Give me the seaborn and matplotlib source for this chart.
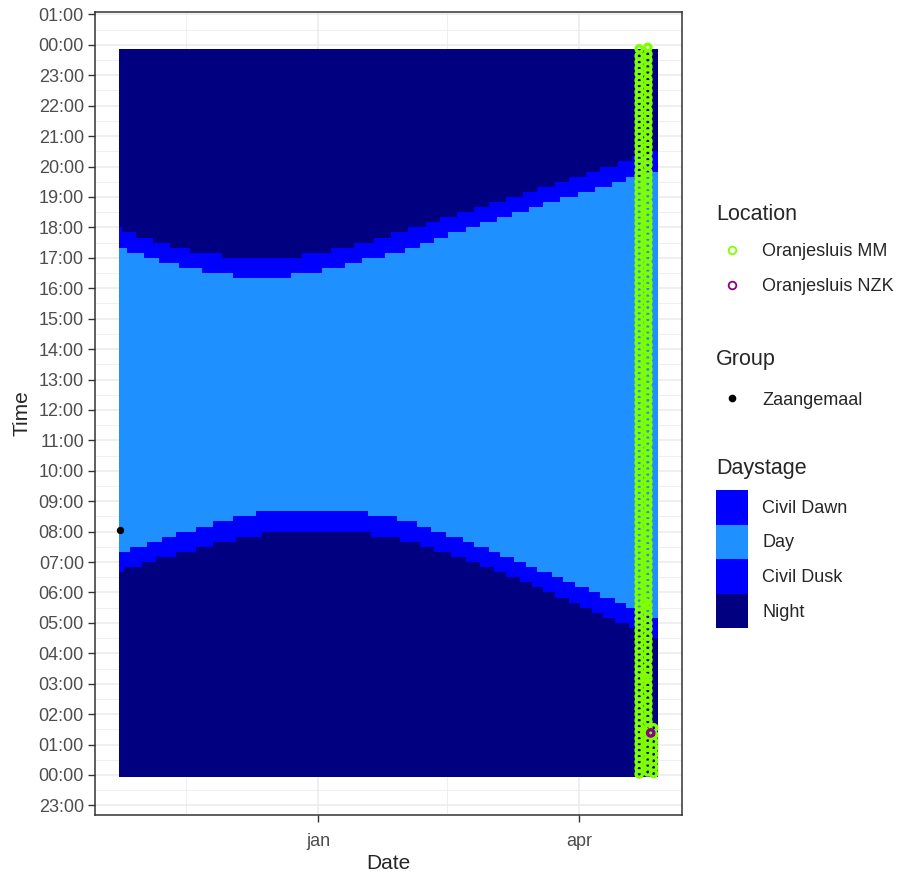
import numpy as np
import pandas as pd
import seaborn as sns
import matplotlib.pyplot as plt
from matplotlib.lines import Line2D
from matplotlib.patches import Patch

sns.set_theme(style="white")
plt.rcParams['font.family'] = ['Liberation Sans', 'DejaVu Sans']


# day stage boundaries, (first day, time) at every change
dawn = [("2023-10-24", "06:40"), ("2023-10-26", "06:50"), ("2023-11-01", "07:00"),
        ("2023-11-06", "07:10"), ("2023-11-13", "07:20"), ("2023-11-20", "07:30"),
        ("2023-11-26", "07:40"), ("2023-12-04", "07:50"), ("2023-12-13", "08:00"),
        ("2024-01-20", "07:50"), ("2024-01-30", "07:40"), ("2024-02-06", "07:30"),
        ("2024-02-11", "07:20"), ("2024-02-17", "07:10"), ("2024-02-22", "07:00"),
        ("2024-02-27", "06:50"), ("2024-03-03", "06:40"), ("2024-03-07", "06:30"),
        ("2024-03-12", "06:20"), ("2024-03-16", "06:10"), ("2024-03-20", "06:00"),
        ("2024-03-24", "05:50"), ("2024-03-29", "05:40"), ("2024-04-02", "05:30"),
        ("2024-04-06", "05:20"), ("2024-04-10", "05:10"), ("2024-04-14", "05:00"),
        ("2024-04-19", "04:50"), ("2024-04-23", "04:40"), ("2024-04-27", "04:30")]

sunrise = [("2023-10-24", "07:20"), ("2023-10-28", "07:30"), ("2023-11-03", "07:40"),
           ("2023-11-08", "07:50"), ("2023-11-13", "08:00"), ("2023-11-20", "08:10"),
           ("2023-11-26", "08:20"), ("2023-12-03", "08:30"), ("2023-12-11", "08:40"),
           ("2024-01-19", "08:30"), ("2024-01-29", "08:20"), ("2024-02-05", "08:10"),
           ("2024-02-10", "08:00"), ("2024-02-15", "07:50"), ("2024-02-21", "07:40"),
           ("2024-02-25", "07:30"), ("2024-03-01", "07:20"), ("2024-03-05", "07:10"),
           ("2024-03-10", "07:00"), ("2024-03-14", "06:50"), ("2024-03-18", "06:40"),
           ("2024-03-23", "06:30"), ("2024-03-27", "06:20"), ("2024-03-31", "06:10"),
           ("2024-04-05", "06:00"), ("2024-04-09", "05:50"), ("2024-04-14", "05:40"),
           ("2024-04-18", "05:30"), ("2024-04-23", "05:20"), ("2024-04-27", "05:10")]

sunset = [("2023-10-24", "17:20"), ("2023-10-27", "17:10"), ("2023-11-02", "17:00"),
          ("2023-11-07", "16:50"), ("2023-11-14", "16:40"), ("2023-11-22", "16:30"),
          ("2023-12-03", "16:20"), ("2023-12-23", "16:30"), ("2024-01-03", "16:40"),
          ("2024-01-11", "16:50"), ("2024-01-17", "17:00"), ("2024-01-25", "17:10"),
          ("2024-02-01", "17:20"), ("2024-02-06", "17:30"), ("2024-02-11", "17:40"),
          ("2024-02-16", "17:50"), ("2024-02-22", "18:00"), ("2024-02-27", "18:10"),
          ("2024-03-04", "18:20"), ("2024-03-09", "18:30"), ("2024-03-15", "18:40"),
          ("2024-03-20", "18:50"), ("2024-03-26", "19:00"), ("2024-04-01", "19:10"),
          ("2024-04-07", "19:20"), ("2024-04-13", "19:30"), ("2024-04-18", "19:40"),
          ("2024-04-24", "19:50")]

dusk = [("2023-10-24", "18:00"), ("2023-10-25", "17:50"), ("2023-10-30", "17:40"),
        ("2023-11-05", "17:30"), ("2023-11-11", "17:20"), ("2023-11-18", "17:10"),
        ("2023-11-29", "17:00"), ("2023-12-27", "17:10"), ("2024-01-06", "17:20"),
        ("2024-01-14", "17:30"), ("2024-01-21", "17:40"), ("2024-01-27", "17:50"),
        ("2024-02-02", "18:00"), ("2024-02-08", "18:10"), ("2024-02-13", "18:20"),
        ("2024-02-19", "18:30"), ("2024-02-25", "18:40"), ("2024-03-01", "18:50"),
        ("2024-03-07", "19:00"), ("2024-03-13", "19:10"), ("2024-03-18", "19:20"),
        ("2024-03-24", "19:30"), ("2024-03-29", "19:40"), ("2024-04-04", "19:50"),
        ("2024-04-09", "20:00"), ("2024-04-15", "20:10"), ("2024-04-20", "20:20"),
        ("2024-04-26", "20:30")]

first_day = "2023-10-24"
last_day = "2024-04-28"

# detections
mm_times = {
    "2024-04-22": """00:02 00:13 00:26 00:37 00:49 01:01 01:12 01:25 01:36 01:48 02:00 02:11
        02:24 02:35 02:47 02:59 03:10 03:23 03:34 03:46 03:58 04:09 04:22 04:33 04:45 04:57
        05:08 05:21 05:32 05:44 05:56 06:07 06:20 06:31 06:43 06:55 07:06 07:19 07:30 07:42
        07:54 08:05 08:18 08:29 08:41 08:53 09:04 09:17 09:28 09:40 09:52 10:03 10:16 10:27
        10:39 10:51 11:02 11:15 11:26 11:38 11:50 12:01 12:14 12:25 12:37 12:49 13:00 13:13
        13:24 13:36 13:48 13:59 14:12 14:23 14:35 14:47 14:58 15:11 15:22 15:34 15:46 15:57
        16:10 16:21 16:33 16:45 16:56 17:09 17:20 17:32 17:44 17:55 18:08 18:19 18:31 18:43
        18:54 19:07 19:18 19:30 19:42 19:53 20:06 20:17 20:29 20:41 20:52 21:05 21:16 21:28
        21:40 21:51 22:04 22:15 22:27 22:39 22:50 23:03 23:14 23:26 23:38 23:52""",
    "2024-04-24": "01:25 03:12 05:40",
    "2024-04-25": """00:06 00:19 00:30 00:44 00:55 01:08 01:20 01:31 01:45 01:56 02:09 02:21
        02:32 02:46 02:57 03:10 03:22 03:33 03:47 03:58 04:11 04:23 04:34 04:48 04:59 05:12
        05:24 05:35 05:49 06:00 06:13 06:25 06:36 06:50 07:01 07:14 07:26 07:37 07:51 08:02
        08:15 08:27 08:38 08:52 09:03 09:16 09:28 09:39 09:53 10:04 10:17 10:29 10:40 10:54
        11:05 11:18 11:30 11:41 11:55 12:06 12:19 12:31 12:42 12:56 13:07 13:20 13:32 13:43
        13:57 14:08 14:21 14:33 14:44 14:58 15:09 15:22 15:34 15:45 15:59 16:10 16:23 16:35
        16:46 17:00 17:11 17:24 17:36 17:47 18:01 18:12 18:25 18:37 18:48 19:02 19:13 19:26
        19:38 19:49 20:03 20:14 20:27 20:39 20:50 21:04 21:15 21:28 21:40 21:51 22:05 22:16
        22:29 22:41 22:52 23:06 23:17 23:30 23:42 23:55""",
    "2024-04-27": "00:03 00:15 00:28 00:41 00:54 01:06 01:19 01:33",
}
nzk_times = {"2024-04-26": "01:23"}
zaangemaal_times = {"2023-10-24": "08:03"}

stage_names = ["Civil Dawn", "Day", "Civil Dusk", "Night"]
stage_colors = ["#0000FF", "#1E90FF", "#0000FF", "#000080"]
loc_names = ["Oranjesluis MM", "Oranjesluis NZK"]
loc_colors = ["#7FFF00", "#8B008B"]


def to_hours(t):
    h, m = t.split(":")
    return int(h) + int(m) / 60


def stepped(points, days):
    s = pd.Series([to_hours(t) for _, t in points],
                  index=pd.to_datetime([d for d, _ in points]))
    v = s.reindex(days, method="ffill").to_numpy()
    return np.append(v, v[-1])


def detections(times):
    rows = [(pd.Timestamp(d), to_hours(t)) for d, ts in times.items() for t in ts.split()]
    return pd.DataFrame(rows, columns=["Date", "Time"])


days = pd.date_range(first_day, last_day, freq="D")
half = pd.Timedelta(hours=12)
edges = (days - half).append(pd.DatetimeIndex([days[-1] + half]))

fig = plt.figure(figsize=(9.01, 8.75), dpi=100)
ax = fig.add_axes([95 / 901, 1 - 815 / 875, 587 / 901, 803 / 875])
ax.set_axisbelow(True)

# tiles: night everywhere, twilight, then day on top
ax.fill_between(edges, -0.07, 23.87, step="post", color=stage_colors[3], lw=0)
ax.fill_between(edges, stepped(dawn, days), stepped(dusk, days), step="post",
                color=stage_colors[0], lw=0)
ax.fill_between(edges, stepped(sunrise, days), stepped(sunset, days), step="post",
                color=stage_colors[1], lw=0)

for times, col in zip([mm_times, nzk_times], loc_colors):
    d = detections(times)
    sns.scatterplot(data=d, x="Date", y="Time", ax=ax, marker="o", s=21,
                    facecolor="none", edgecolor=col, linewidth=2.4)

z = detections(zaangemaal_times)
sns.scatterplot(data=z, x="Date", y="Time", ax=ax, color="black", s=28, linewidth=0)

# axes
ax.set_xlim(pd.Timestamp("2023-10-15 06:00"), pd.Timestamp("2024-05-06 22:00"))
ax.set_ylim(-1.315, 25.08)

hrs = np.arange(-1, 26)
ax.set_yticks(hrs)
ax.set_yticklabels([f"{h % 24:02d}:00" for h in hrs])
ax.set_yticks(hrs[:-1] + 0.5, minor=True)
ax.set_xticks(pd.to_datetime(["2024-01-01", "2024-04-01"]))
ax.set_xticklabels(["jan", "apr"])
ax.set_xticks(pd.to_datetime(["2023-11-16", "2024-02-15"]), minor=True)

ax.grid(which="major", color="#EBEBEB", lw=1.1)
ax.grid(which="minor", color="#EBEBEB", lw=0.55)
ax.tick_params(which="major", direction="out", length=5, width=1, color="#333333",
               labelsize=13, labelcolor="#4D4D4D", pad=3, left=True, bottom=True)
ax.tick_params(axis="x", which="major", pad=8)
ax.tick_params(which="minor", length=0)
for sp in ax.spines.values():
    sp.set_color("#333333")
    sp.set_linewidth(1.1)
ax.set_xlabel("Date", fontsize=15, labelpad=3)
ax.set_ylabel("Time", fontsize=15, labelpad=5)

# legends
loc_h = [Line2D([], [], ls="", marker="o", ms=5.5, mfc="none", mec=c, mew=1.3)
         for c in loc_colors]
grp_h = [Line2D([], [], ls="", marker="o", ms=4.5, mfc="black", mec="black")]
stage_h = [Patch(facecolor=c, edgecolor="none") for c in stage_colors]

common = dict(loc="upper left", frameon=False, alignment="left", fontsize=13,
              title_fontsize=15.5, borderpad=0, borderaxespad=0)
leg1 = fig.legend(loc_h, loc_names, title="Location", bbox_to_anchor=(716 / 901, 1 - 204 / 875),
                  handlelength=1.8, handletextpad=0.75, labelspacing=1.0, **common)
leg2 = fig.legend(grp_h, ["Zaangemaal"], title="Group", bbox_to_anchor=(716 / 901, 1 - 349 / 875),
                  handlelength=1.8, handletextpad=0.75, labelspacing=1.2, **common)
leg3 = fig.legend(stage_h, stage_names, title="Daystage", bbox_to_anchor=(716 / 901, 1 - 458 / 875),
                  handlelength=1.75, handleheight=2.57, handletextpad=0.8, labelspacing=0, **common)
leg3._legend_box.sep = 8

fig.savefig("out.png", dpi=100)
